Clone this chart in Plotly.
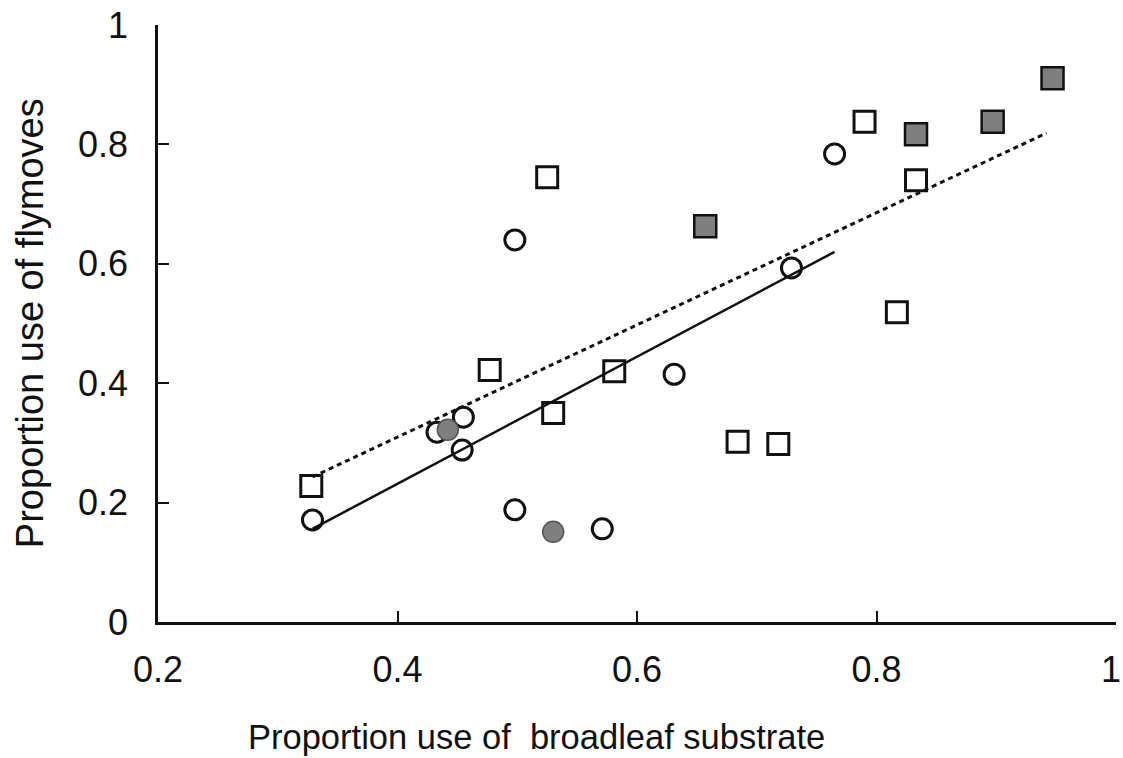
import plotly.graph_objects as go

# Data
open_circle_x = [0.329, 0.433, 0.455, 0.454, 0.498, 0.498, 0.571, 0.631, 0.729, 0.765]
open_circle_y = [0.171, 0.318, 0.343, 0.288, 0.640, 0.188, 0.156, 0.415, 0.593, 0.784]

filled_circle_x = [0.442, 0.530]
filled_circle_y = [0.322, 0.151]

open_square_x = [0.328, 0.477, 0.525, 0.530, 0.581, 0.684, 0.718, 0.790, 0.817, 0.833]
open_square_y = [0.228, 0.422, 0.745, 0.350, 0.420, 0.302, 0.298, 0.838, 0.519, 0.740]

filled_square_x = [0.657, 0.833, 0.897, 0.947]
filled_square_y = [0.663, 0.817, 0.838, 0.911]

fit_circles_x = [0.329, 0.765]
fit_circles_y = [0.156, 0.620]

fit_squares_x = [0.329, 0.942]
fit_squares_y = [0.243, 0.819]

x_ticks = [0.2, 0.4, 0.6, 0.8, 1.0]
x_tick_labels = ["0.2", "0.4", "0.6", "0.8", "1"]
y_ticks = [0, 0.2, 0.4, 0.6, 0.8, 1.0]
y_tick_labels = ["0", "0.2", "0.4", "0.6", "0.8", "1"]

x_title = "Proportion use of  broadleaf substrate"
y_title = "Proportion use of flymoves"

INK = "#111111"
GRAY = "#7f7f7f"
FONT = "Liberation Sans, Arial, sans-serif"

fig = go.Figure()

fig.add_trace(go.Scatter(
    x=open_circle_x, y=open_circle_y, mode="markers",
    marker=dict(symbol="circle", size=20, color="white", line=dict(color=INK, width=3)),
    showlegend=False))
fig.add_trace(go.Scatter(
    x=filled_circle_x, y=filled_circle_y, mode="markers",
    marker=dict(symbol="circle", size=21, color=GRAY, line=dict(color="#555555", width=1.5)),
    showlegend=False))
fig.add_trace(go.Scatter(
    x=open_square_x, y=open_square_y, mode="markers",
    marker=dict(symbol="square", size=21, color="white", line=dict(color=INK, width=3)),
    showlegend=False))
fig.add_trace(go.Scatter(
    x=filled_square_x, y=filled_square_y, mode="markers",
    marker=dict(symbol="square", size=22, color=GRAY, line=dict(color=INK, width=2.5)),
    showlegend=False))

fig.add_trace(go.Scatter(
    x=fit_circles_x, y=fit_circles_y, mode="lines",
    line=dict(color=INK, width=2.5), showlegend=False))
fig.add_trace(go.Scatter(
    x=fit_squares_x, y=fit_squares_y, mode="lines",
    line=dict(color=INK, width=3, dash="5px,4px"), showlegend=False))

# The last x tick label sits at the page edge; it is drawn as an annotation
# right-aligned to the edge so it is not cut off.
axis_tick_text = x_tick_labels[:-1] + [""]

fig.update_xaxes(
    range=[0.2, 1.0], tickvals=x_ticks, ticktext=axis_tick_text,
    showline=True, linecolor=INK, linewidth=2.5,
    ticks="inside", ticklen=11, tickwidth=2, tickcolor=INK,
    showgrid=False, zeroline=False, ticklabelstandoff=14,
    automargin=False,
    tickfont=dict(family=FONT, size=36, color=INK))
fig.update_yaxes(
    range=[0, 1.0], tickvals=y_ticks, ticktext=y_tick_labels,
    showline=True, linecolor=INK, linewidth=2.5,
    ticks="inside", ticklen=11, tickwidth=2, tickcolor=INK,
    showgrid=False, zeroline=False, ticklabelstandoff=20,
    ticklabeloverflow="allow", automargin=False,
    tickfont=dict(family=FONT, size=36, color=INK))

fig.add_annotation(
    text=x_tick_labels[-1], xref="x", yref="paper", x=x_ticks[-1], y=0,
    xanchor="right", yanchor="middle", xshift=6, yshift=-47, showarrow=False,
    borderpad=0, font=dict(family=FONT, size=36, color=INK))

fig.add_annotation(
    text=x_title, xref="paper", yref="paper", x=0.395, y=-0.193,
    xanchor="center", yanchor="middle", showarrow=False,
    font=dict(family=FONT, size=34.5, color=INK))
fig.add_annotation(
    text=y_title, xref="paper", yref="paper", x=-0.134, y=0.5,
    xanchor="center", yanchor="middle", textangle=-90, showarrow=False,
    font=dict(family=FONT, size=38, color=INK))

fig.update_layout(
    width=1123, height=758,
    margin=dict(l=158, r=7, t=25, b=136, autoexpand=False),
    paper_bgcolor="white", plot_bgcolor="white",
)

fig.write_html("out.html")
